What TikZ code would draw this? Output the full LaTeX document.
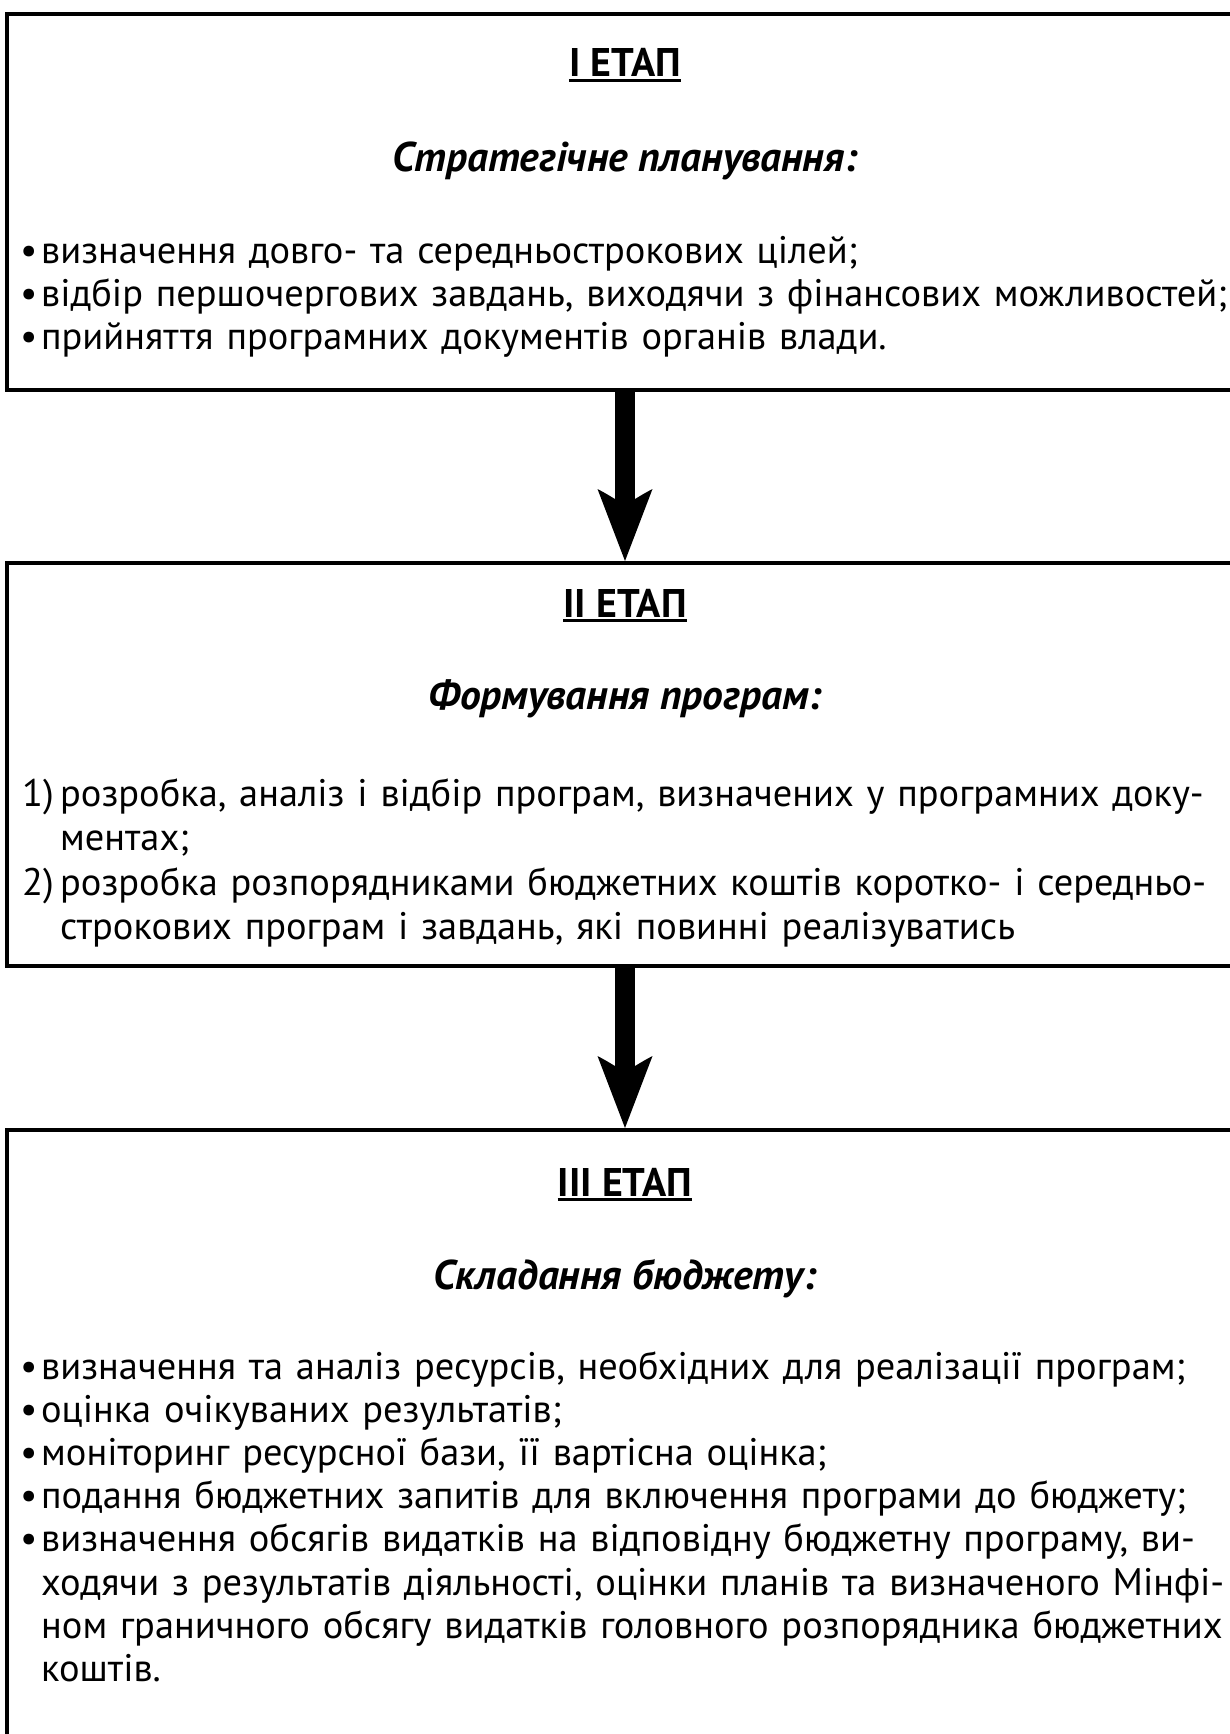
\documentclass[tikz,border=0pt]{standalone}
\usepackage{fontspec}
\setmainfont{PT Sans}
\usetikzlibrary{calc}
\hyphenpenalty=10000
\exhyphenpenalty=10000
\tikzset{
  stagebox/.style={draw, line width=4pt, rectangle, minimum width=1236pt, inner sep=0pt},
  heading/.style={anchor=base, inner sep=0pt, font=\fontsize{40}{42}\selectfont\bfseries},
  subheading/.style={anchor=base, inner sep=0pt, font=\fontsize{41.5}{42}\selectfont\bfseries\itshape},
  listtext/.style={anchor=base west, inner sep=0pt, align=left, text width=1300pt},
  uline/.style={line width=2.5pt},
  shaft/.style={line width=20pt},
  headtip/.style={fill=black},
}
\newcommand{\bul}{\makebox[21pt][l]{•}}
\newcommand{\numb}[1]{\makebox[38pt][l]{#1}}
\newcommand{\jline}[2]{\makebox[#1][s]{#2}}
\begin{document}
\begin{tikzpicture}[x=1pt,y=-1pt]
\useasboundingbox (0,0) rectangle (1229,1734);
\fill[white] (0,0) rectangle (1229,1734);
% boxes
\node[stagebox, minimum height=376pt] (b1) at (625,202) {};
\node[stagebox, minimum height=403pt] (b2) at (625,764.5) {};
\node[stagebox, minimum height=640pt] (b3) at (625,1450) {};
% box 1
\node[heading] (h1) at (625,77) {I ЕТАП};
\draw[uline] ([yshift=-3.5pt]h1.base west) -- ([yshift=-3.5pt]h1.base east);
\node[subheading] (s1) at (625,171) {Стратегічне планування:};
\node[listtext, font=\fontsize{38.4}{43}\selectfont] (l1) at (20,263)
 {\bul визначення довго- та середньострокових цілей;\\
  \bul відбір першочергових завдань, виходячи з фінансових можливостей;\\
  \bul прийняття програмних документів органів влади.};
% box 2
\node[heading] (h2) at (625,617) {II ЕТАП};
\draw[uline] ([yshift=-3.5pt]h2.base west) -- ([yshift=-3.5pt]h2.base east);
\node[subheading] (s2) at (625,709) {Формування програм:};
\node[listtext, font=\fontsize{38.4}{44.5}\selectfont] (l2) at (22,806)
 {\numb{1)}\jline{1126pt}{розробка, аналіз і відбір програм, визначених у програмних доку-}\\
  \hspace*{38pt}ментах;\\
  \numb{2)}\jline{1126pt}{розробка розпорядниками бюджетних коштів коротко- і середньо-}\\
  \hspace*{38pt}строкових програм і завдань, які повинні реалізуватись};
% box 3
\node[heading] (h3) at (625,1196) {III ЕТАП};
\draw[uline] ([yshift=-3.5pt]h3.base west) -- ([yshift=-3.5pt]h3.base east);
\node[subheading] (s3) at (625,1289) {Складання бюджету:};
\node[listtext, font=\fontsize{38.4}{43.1}\selectfont] (l3) at (20,1379.5)
 {\bul визначення та аналіз ресурсів, необхідних для реалізації програм;\\
  \bul оцінка очікуваних результатів;\\
  \bul моніторинг ресурсної бази, її вартісна оцінка;\\
  \bul подання бюджетних запитів для включення програми до бюджету;\\
  \bul\jline{1172pt}{визначення обсягів видатків на відповідну бюджетну програму, ви-}\\
  \hspace*{21pt}\jline{1172pt}{ходячи з результатів діяльності, оцінки планів та визначеного Мінфі-}\\
  \hspace*{21pt}\jline{1177pt}{ном граничного обсягу видатків головного розпорядника бюджетних}\\
  \hspace*{21pt}коштів.};
% arrows
\draw[shaft] (b1.south) -- ($(b2.north)+(0,-60)$);
\fill[headtip] (b2.north) -- ($(b2.north)+(-27.5,-72)$) .. controls ($(b2.north)+(-20,-68)$) .. ($(b2.north)+(-10,-62)$) -- ($(b2.north)+(10,-62)$) .. controls ($(b2.north)+(20,-68)$) .. ($(b2.north)+(27.5,-72)$) -- cycle;
\draw[shaft] (b2.south) -- ($(b3.north)+(0,-60)$);
\fill[headtip] (b3.north) -- ($(b3.north)+(-27.5,-72)$) .. controls ($(b3.north)+(-20,-68)$) .. ($(b3.north)+(-10,-62)$) -- ($(b3.north)+(10,-62)$) .. controls ($(b3.north)+(20,-68)$) .. ($(b3.north)+(27.5,-72)$) -- cycle;
\end{tikzpicture}
\end{document}
